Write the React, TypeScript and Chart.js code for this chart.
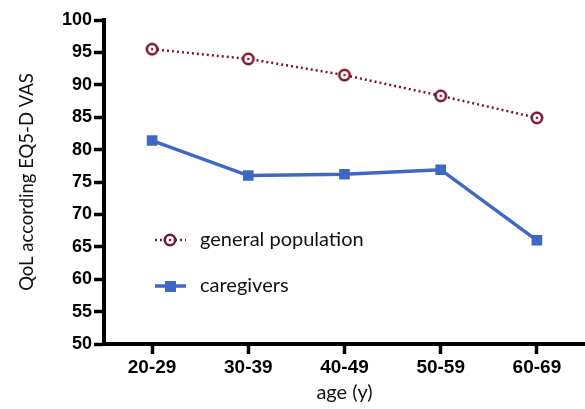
import React, { useEffect, useRef } from "react";
import { Chart, registerables } from "chart.js";

Chart.register(...registerables);

const categories = ["20-29", "30-39", "40-49", "50-59", "60-69"];
const generalPopulation = [95.5, 94.0, 91.5, 88.3, 84.9];
const caregivers = [81.4, 76.0, 76.2, 76.9, 66.0];
const yTicks = [50, 55, 60, 65, 70, 75, 80, 85, 90, 95, 100];

const RED = "#7a1530";
const BLUE = "#3e67c6";

function makeCircleDot(): HTMLCanvasElement {
  const c = document.createElement("canvas");
  c.width = 16;
  c.height = 16;
  const ctx = c.getContext("2d")!;
  ctx.fillStyle = "#ffffff";
  ctx.strokeStyle = RED;
  ctx.lineWidth = 2.6;
  ctx.beginPath();
  ctx.arc(8, 8, 5.2, 0, Math.PI * 2);
  ctx.fill();
  ctx.stroke();
  ctx.fillStyle = RED;
  ctx.beginPath();
  ctx.arc(8, 8, 1.3, 0, Math.PI * 2);
  ctx.fill();
  return c;
}

function makeLegendPlugin(img: HTMLCanvasElement) {
  return {
    id: "insideLegend",
    afterDraw(chart: any) {
      const ctx = chart.ctx;
      ctx.save();
      const y1 = 240;
      ctx.strokeStyle = RED;
      ctx.lineWidth = 2.5;
      ctx.setLineDash([2, 3]);
      ctx.beginPath();
      ctx.moveTo(155, y1);
      ctx.lineTo(186, y1);
      ctx.stroke();
      ctx.setLineDash([]);
      ctx.drawImage(img, 170 - 8, y1 - 8);
      const y2 = 286;
      ctx.strokeStyle = BLUE;
      ctx.lineWidth = 3.5;
      ctx.beginPath();
      ctx.moveTo(155, y2);
      ctx.lineTo(186, y2);
      ctx.stroke();
      ctx.fillStyle = BLUE;
      ctx.fillRect(165, y2 - 5, 11, 11);
      ctx.fillStyle = "#111";
      ctx.font = "20px Lato";
      ctx.textBaseline = "middle";
      ctx.fillText("general population", 200, y1);
      ctx.fillText("caregivers", 200, y2);
      ctx.restore();
    },
  };
}

export default function App() {
  const ref = useRef<HTMLCanvasElement>(null);
  useEffect(() => {
    const circleDot = makeCircleDot();
    const chart: any = new Chart(ref.current!, {
      type: "line",
      data: {
        labels: categories,
        datasets: [
          {
            label: "general population",
            data: generalPopulation,
            borderColor: RED,
            borderWidth: 2.5,
            borderDash: [2, 3],
            pointStyle: circleDot as any,
            pointRadius: 6,
            backgroundColor: RED,
          },
          {
            label: "caregivers",
            data: caregivers,
            borderColor: BLUE,
            backgroundColor: BLUE,
            borderWidth: 3.5,
            pointStyle: "rect",
            pointRadius: 7.5,
            pointBorderWidth: 0,
          },
        ],
      },
      options: {
        responsive: false,
        animation: false,
        layout: { autoPadding: false, padding: { top: 20, right: 0, left: 0, bottom: 0 } },
        plugins: { legend: { display: false }, tooltip: { enabled: false } },
        scales: {
          x: {
            offset: true,
            afterFit: (axis: any) => {
              axis.height = 65;
              axis.paddingRight = 0;
              axis.paddingLeft = 0;
            },
            border: { display: true, color: "#000", width: 4 },
            grid: {
              display: true,
              drawOnChartArea: false,
              drawTicks: true,
              tickLength: 10,
              tickWidth: 3.5,
              tickColor: "#000",
              offset: false,
            },
            ticks: {
              color: "#000",
              font: { family: "Liberation Sans", size: 19, weight: "bold" },
              padding: 2,
            },
            title: {
              display: true,
              text: "age (y)",
              color: "#111",
              font: { family: "Lato", size: 20 },
              padding: { top: 0, bottom: 4 },
            },
          },
          y: {
            min: 50,
            max: 100,
            afterFit: (axis: any) => {
              axis.width = 104;
            },
            afterBuildTicks: (axis: any) => {
              axis.ticks = yTicks.map((v) => ({ value: v }));
            },
            border: { display: true, color: "#000", width: 4 },
            grid: {
              display: true,
              drawOnChartArea: false,
              drawTicks: true,
              tickLength: 10,
              tickWidth: 3.5,
              tickColor: "#000",
            },
            ticks: {
              color: "#000",
              font: { family: "Liberation Sans", size: 18, weight: "bold" },
              padding: 2,
            },
            title: {
              display: true,
              text: "QoL according EQ5-D VAS",
              color: "#111",
              font: { family: "Lato", size: 18.5 },
              padding: { top: 16, bottom: 0 },
            },
          },
        },
      },
      plugins: [makeLegendPlugin(circleDot)],
    });
    return () => chart.destroy();
  }, []);
  return (
    <div style={{ position: "fixed", left: 0, top: 0, width: 585, height: 409, background: "#fff" }}>
      <canvas ref={ref} width={585} height={409} style={{ display: "block" }} />
    </div>
  );
}
